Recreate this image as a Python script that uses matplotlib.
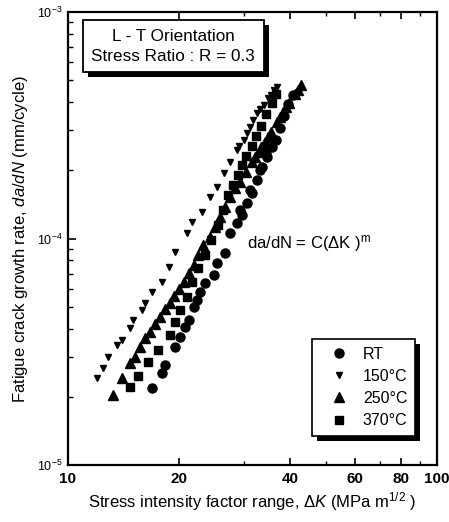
import matplotlib
matplotlib.use("Agg")
import matplotlib.pyplot as plt
from matplotlib.patches import Rectangle
from matplotlib.ticker import FixedLocator, NullFormatter

plt.rcParams['font.family'] = ['Liberation Sans', 'DejaVu Sans']
plt.rcParams['mathtext.fontset'] = 'custom'
plt.rcParams['mathtext.rm'] = 'Liberation Sans'
plt.rcParams['mathtext.it'] = 'Liberation Sans:italic'

# ---- data ----
rt_dk = [16.88, 17.97, 18.35, 19.53, 20.16, 20.79, 21.23, 21.90, 22.37, 22.84, 23.56,
         24.81, 25.35, 26.71, 27.55, 28.73, 29.33, 29.65, 30.59, 31.22, 31.56, 32.56,
         33.04, 33.60, 34.31, 34.67, 35.77, 36.52, 37.44, 38.38, 39.36, 40.61]
rt_da = [2.182e-5, 2.541e-5, 2.763e-5, 3.328e-5, 3.684e-5, 4.078e-5, 4.366e-5, 5.0e-5,
         5.354e-5, 5.823e-5, 6.341e-5, 6.9e-5, 7.772e-5, 8.603e-5, 1.057e-4, 1.167e-4,
         1.336e-4, 1.270e-4, 1.430e-4, 1.637e-4, 1.583e-4, 1.813e-4, 2.006e-4, 2.075e-4,
         2.409e-4, 2.297e-4, 2.543e-4, 2.721e-4, 3.075e-4, 3.474e-4, 3.923e-4, 4.301e-4]

t150_dk = [11.97, 12.47, 12.87, 13.56, 13.99, 14.74, 15.04, 15.86, 16.19, 16.88, 17.97,
           18.73, 19.53, 21.02, 21.69, 23.08, 24.31, 25.35, 26.42, 27.55, 28.73, 29.15,
           29.95, 30.64, 31.22, 31.82, 32.56, 33.24, 33.95, 34.73, 35.40, 36.07, 36.91]
t150_da = [2.414e-5, 2.673e-5, 3.007e-5, 3.386e-5, 3.563e-5, 4.012e-5, 4.366e-5, 4.833e-5,
           5.175e-5, 5.823e-5, 6.446e-5, 7.509e-5, 8.743e-5, 1.054e-4, 1.186e-4, 1.313e-4,
           1.530e-4, 1.694e-4, 1.940e-4, 2.183e-4, 2.459e-4, 2.561e-4, 2.721e-4, 2.922e-4,
           3.116e-4, 3.336e-4, 3.570e-4, 3.729e-4, 3.884e-4, 4.172e-4, 4.301e-4, 4.523e-4,
           4.680e-4]

t250_dk = [13.28, 13.99, 14.74, 15.21, 15.69, 16.19, 16.71, 17.24, 17.78, 18.35, 18.85,
           19.41, 19.94, 20.57, 21.23, 21.90, 22.46, 23.27, 24.31, 25.09, 25.88, 26.71,
           27.55, 28.43, 29.33, 30.45, 31.62, 32.22, 32.84, 33.45, 34.10, 34.73, 35.40,
           36.75, 37.44, 38.15, 38.88, 39.61, 41.12, 41.90, 42.69]
t250_da = [2.038e-5, 2.414e-5, 2.812e-5, 3.007e-5, 3.328e-5, 3.625e-5, 3.877e-5, 4.193e-5,
           4.515e-5, 4.867e-5, 5.206e-5, 5.576e-5, 5.967e-5, 6.446e-5, 7.021e-5, 7.638e-5,
           8.455e-5, 9.36e-5, 1.018e-4, 1.127e-4, 1.248e-4, 1.382e-4, 1.530e-4, 1.666e-4,
           1.781e-4, 1.966e-4, 2.176e-4, 2.291e-4, 2.409e-4, 2.535e-4, 2.667e-4, 2.806e-4,
           2.952e-4, 3.268e-4, 3.438e-4, 3.618e-4, 3.806e-4, 3.963e-4, 4.345e-4, 4.523e-4,
           4.762e-4]

t370_dk = [14.74, 15.50, 16.50, 17.56, 18.93, 19.53, 20.16, 21.05, 21.73, 22.56, 23.56,
           24.47, 25.56, 26.38, 27.21, 28.08, 28.97, 29.71, 30.45, 31.43, 32.42, 33.45,
           34.51, 35.62, 36.52]
t370_da = [2.211e-5, 2.471e-5, 2.849e-5, 3.219e-5, 3.750e-5, 4.279e-5, 4.833e-5, 5.519e-5,
           6.426e-5, 7.409e-5, 8.455e-5, 9.85e-5, 1.147e-4, 1.336e-4, 1.556e-4, 1.723e-4,
           1.907e-4, 2.112e-4, 2.313e-4, 2.561e-4, 2.836e-4, 3.139e-4, 3.545e-4, 3.963e-4,
           4.345e-4]

series_labels = ['RT', '150°C', '250°C', '370°C']
xtick_vals = [10, 20, 40, 60, 80, 100]
xtick_labels = ['10', '20', '40', '60', '80', '100']
ytick_vals = [1e-5, 1e-4, 1e-3]
ytick_labels = [r'$10^{-5}$', r'$10^{-4}$', r'$10^{-3}$']

# ---- figure ----
fig = plt.figure(figsize=(4.49, 5.22), dpi=100)
ax = fig.add_axes([0.1514, 0.1092, 0.8219, 0.8678])
ax.set_xscale('log')
ax.set_yscale('log')
ax.set_xlim(10, 100)
ax.set_ylim(1e-5, 1e-3)

ax.plot(rt_dk, rt_da, 'o', color='black', ms=6.5, ls='none', label=series_labels[0])
ax.plot(t150_dk, t150_da, 'v', color='black', ms=4.5, ls='none', label=series_labels[1])
ax.plot(t250_dk, t250_da, '^', color='black', ms=7, ls='none', label=series_labels[2])
ax.plot(t370_dk, t370_da, 's', color='black', ms=5.5, ls='none', label=series_labels[3])

for s in ax.spines.values():
    s.set_linewidth(1.6)

ax.xaxis.set_major_locator(FixedLocator(xtick_vals))
ax.set_xticklabels(xtick_labels)
ax.xaxis.set_minor_locator(FixedLocator([30, 50, 70, 90]))
ax.xaxis.set_minor_formatter(NullFormatter())
ax.yaxis.set_major_locator(FixedLocator(ytick_vals))
ax.set_yticklabels(ytick_labels)
ax.tick_params(axis='both', which='both', direction='in', top=True, right=False)
ax.tick_params(axis='x', which='major', length=5, width=1.2, labelsize=11, pad=5)
ax.tick_params(axis='x', which='minor', length=3, width=1)
ax.tick_params(axis='y', which='major', length=6, width=1.2, labelsize=9, pad=4)
ax.tick_params(axis='y', which='minor', length=3.5, width=1)
for lab in ax.get_xticklabels():
    lab.set_fontweight('bold')

ax.set_xlabel(r'Stress intensity factor range, $\mathit{\Delta K}$ (MPa m$^{1/2}$ )',
              fontsize=12, labelpad=3)
ax.set_ylabel(r'Fatigue crack growth rate, $\mathit{da/dN}$ (mm/cycle)', fontsize=12, labelpad=5)

txt = ax.text(0.285, 0.924, 'L - T Orientation\nStress Ratio : R = 0.3', transform=ax.transAxes,
              ha='center', va='center', fontsize=12.3, linespacing=1.4,
              bbox=dict(boxstyle='square,pad=0.5', fc='white', ec='black', lw=1.3))

ax.text(0.485, 0.49, r'da/dN = C($\Delta$K )$^{\rm m}$', transform=ax.transAxes,
        ha='left', va='center', fontsize=12)

leg = ax.legend(loc='lower left', bbox_to_anchor=(0.639, 0.046), fontsize=11.5,
                frameon=True, fancybox=False, edgecolor='black', framealpha=1,
                handletextpad=0.3, labelspacing=0.45, borderpad=0.5, handlelength=2.4,
                markerscale=1.0)
leg.get_frame().set_linewidth(1.2)

fig.canvas.draw()
renderer = fig.canvas.get_renderer()
inv = fig.transFigure.inverted()
for bb in [txt.get_bbox_patch().get_window_extent(renderer), leg.get_frame().get_window_extent(renderer)]:
    (x0, y0), (x1, y1) = inv.transform([[bb.x0 + 5, bb.y0 - 5], [bb.x1 + 5, bb.y1 - 5]])
    fig.patches.append(Rectangle((x0, y0), x1 - x0, y1 - y0, transform=fig.transFigure,
                                 facecolor='black', edgecolor='none', zorder=0))
ax.set_zorder(1)
ax.patch.set_alpha(0)

fig.savefig('out.png', dpi=100)
